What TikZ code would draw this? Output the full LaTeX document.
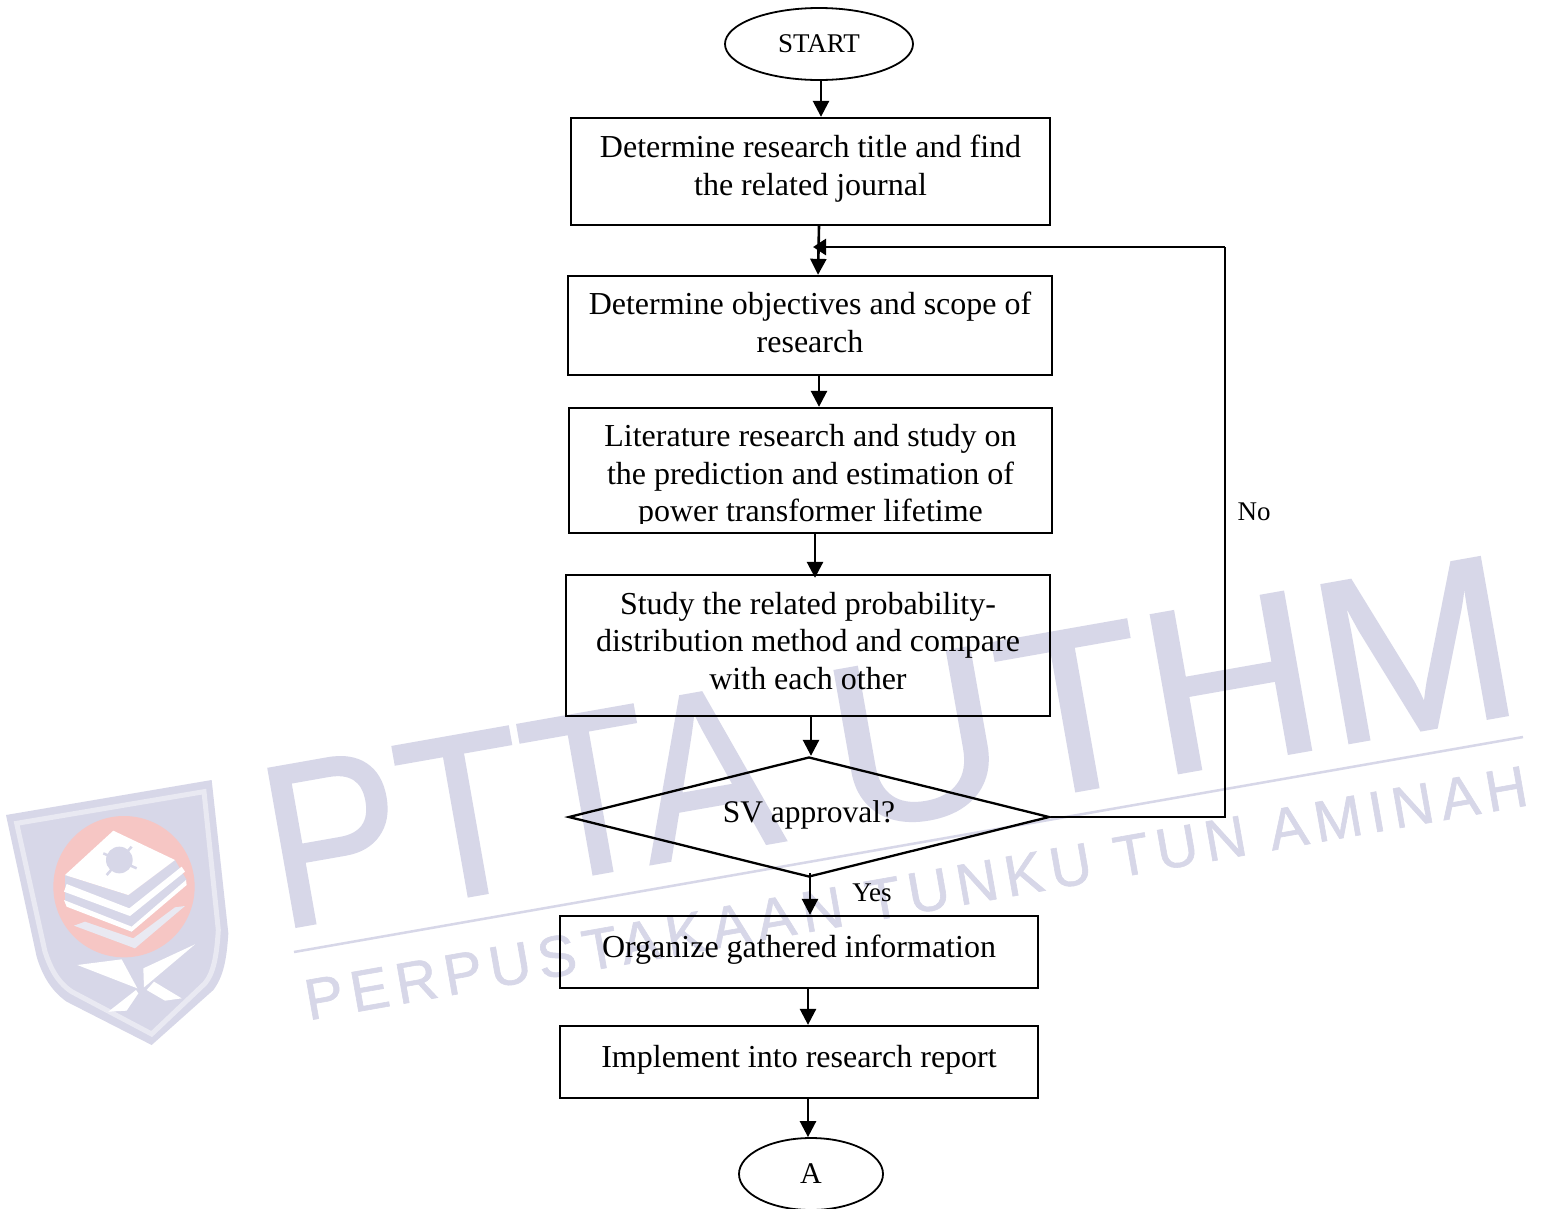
\documentclass[tikz,border=0pt]{standalone}
\usepackage{fontspec}
\setmainfont{Liberation Serif}
\newfontfamily\wmfont[RawFeature={embolden=1.0}]{Liberation Sans}
\newfontfamily\wmsmall[LetterSpace=12.5,RawFeature={embolden=1.0}]{Liberation Sans}
\usetikzlibrary{shapes.geometric,arrows.meta}
\definecolor{wm}{HTML}{D7D7E8}
\definecolor{wmlight}{HTML}{E9E9F2}
\definecolor{wmred}{HTML}{F6C6C4}
\newcommand{\dnstrut}[1]{\rule[-#1pt]{0pt}{#1pt}}
\tikzset{
  boxnode/.style={draw=black,line width=2.3pt,rectangle,inner sep=0pt,align=center,font=\fontsize{32}{37.5}\selectfont},
  ellnode/.style={draw=black,line width=1.8pt,ellipse,inner sep=0pt},
  decnode/.style={draw=black,line width=2.3pt,diamond,aspect=4,inner sep=0pt,font=\fontsize{31.5}{36}\selectfont},
  conn/.style={line width=2.6pt,-{Triangle[length=16pt,width=16pt]}},
  lbl/.style={font=\fontsize{27}{30}\selectfont,inner sep=0pt},
  wmtext/.style={text=wm,inner sep=0pt,anchor=center}
}
\begin{document}
\begin{tikzpicture}[x=1pt,y=-1pt]
\useasboundingbox (0,0) rectangle (1546,1208);
\fill[white] (0,0) rectangle (1546,1208);
% watermark
\node[wmtext,rotate=10,xscale=0.89,font=\wmfont\fontsize{233}{233}\selectfont] (wm1) at (519,806) {PTTA};
\node[wmtext,rotate=10,xscale=1.03,font=\wmfont\fontsize{233}{233}\selectfont] (wm3) at (1172,694) {UTHM};
\node[wmtext,rotate=10,font=\wmsmall\fontsize{58}{58}\selectfont] (wm2) at (916,893) {PERPUSTAKAAN TUNKU TUN AMINAH};
\coordinate (wma) at (294,952);
\coordinate (wmb) at (1523,737);
\draw[wm,line width=2.5pt] (wma) -- (wmb);
\begin{scope}[shift={(0,760)},x=0.33333pt,y=-0.33333pt]
\fill[wm] (18,165) -- (635,60) -- (685,520) .. controls (680,600) and (670,650) .. (640,690) -- (455,855) -- (200,725) .. controls (150,690) and (125,640) .. (110,590) -- cycle;
\draw[wmlight,line width=5pt] (50,190) -- (612,95) -- (655,510) .. controls (650,590) and (640,640) .. (615,670) -- (455,822) -- (215,695) .. controls (170,665) and (150,620) .. (135,575) -- cycle;
\fill[wmred] (372,380) ellipse [x radius=212,y radius=212];
\fill[wm] (195,345) -- (385,405) -- (525,300) -- (560,360) -- (395,515) -- (195,430) -- cycle;
\fill[white] (340,212) -- (525,300) -- (385,405) -- (195,345) -- cycle;
\fill[white] (200,372) -- (388,445) -- (545,320) -- (555,335) -- (390,468) -- (192,395) -- cycle;
\fill[white] (192,420) -- (395,500) -- (558,360) -- (560,375) -- (395,515) -- (200,440) -- cycle;
\fill[wmlight] (222,497) -- (405,565) -- (555,438) -- (525,442) -- (400,535) -- (255,485) -- cycle;
\fill[wm] (358,300) circle [radius=40];
\draw[wm,line width=2.5pt] (310,280) -- (410,325);
\draw[wm,line width=2.5pt] (395,260) -- (320,345);
\fill[white] (232,615) -- (365,598) -- (412,685) -- cycle;
\fill[white] (430,625) -- (585,553) -- (432,682) -- cycle;
\fill[white] (408,690) -- (325,755) -- (380,752) -- (415,700) -- cycle;
\fill[white] (462,665) -- (545,715) -- (495,722) -- (440,690) -- cycle;
\end{scope}
% nodes
\node[ellnode,minimum width=188pt,minimum height=72pt,font=\fontsize{27}{30}\selectfont] (st) at (819,44) {START};
\node[boxnode,minimum width=479pt,minimum height=107pt] (b1) at (810.5,171.5) {Determine research title and find\\the related journal\dnstrut{13}};
\node[boxnode,minimum width=484pt,minimum height=99pt] (b2) at (810,325.5) {Determine objectives and scope of\\research\dnstrut{7}};
\node[boxnode,minimum width=483pt,minimum height=125pt] (b3) at (810.5,470.5) {};
\begin{scope}
\clip (570,410) rectangle (1050,523.5);
\node[boxnode,draw=none,anchor=center] (b3t) at (810.5,476.5) {Literature research and study on\\the prediction and estimation of\\power transformer lifetime};
\end{scope}
\node[boxnode,minimum width=484pt,minimum height=141pt] (b4) at (808,645.5) {Study the related probability-\\distribution method and compare\\with each other\dnstrut{10}};
\node[decnode,minimum width=481pt,minimum height=120pt] (dm) at (809,817) {SV approval?\dnstrut{10}};
\node[boxnode,minimum width=478pt,minimum height=72pt] (b5) at (799,952) {Organize gathered information\dnstrut{12}};
\node[boxnode,minimum width=478pt,minimum height=72pt] (b6) at (799,1062) {Implement into research report\dnstrut{12}};
\node[ellnode,minimum width=144pt,minimum height=72pt,font=\fontsize{30}{36}\selectfont] (en) at (811,1174) {A};
\node[lbl] (no) at (1254,512) {No};
\node[lbl] (yes) at (872,893) {Yes};
% connectors
\draw[conn] ([xshift=2pt]st.south) -- ([xshift=10.5pt]b1.north);
\draw[conn] ([xshift=8.5pt]b1.south) -- ([xshift=8pt]b2.north);
\draw[conn] ([xshift=9pt]b2.south) -- ([xshift=8.5pt]b3.north);
\draw[conn] ([xshift=4.5pt]b3.south) -- ([xshift=7pt,yshift=-4pt]b4.north);
\draw[conn] ([xshift=3pt]b4.south) -- ([xshift=2pt]dm.north);
\draw[conn] ([xshift=1pt,yshift=5pt]dm.south) -- ([xshift=11pt]b5.north);
\draw[conn] ([xshift=9pt]b5.south) -- ([xshift=9pt]b6.north);
\draw[conn] ([xshift=9pt]b6.south) -- ([xshift=-3pt]en.north);
\coordinate (c1) at (1225,817);
\coordinate (c2) at (1225,247);
\coordinate (jn) at (813,247);
\draw[line width=2pt] (dm.east) -- (c1) -- (c2);
\draw[line width=2.8pt,-{Triangle[length=13pt,width=16pt]}] (c2) -- (jn);
\end{tikzpicture}
\end{document}
